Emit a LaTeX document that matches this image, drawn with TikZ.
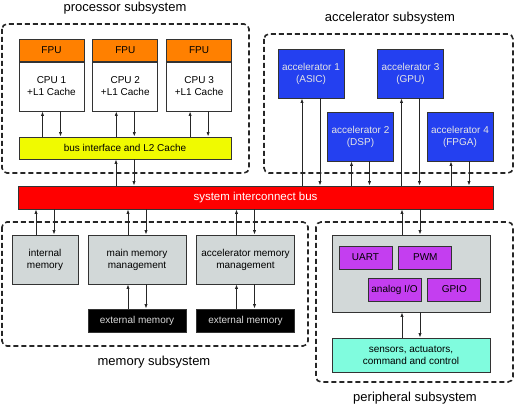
\documentclass[tikz,border=0pt]{standalone}
\usepackage{fontspec}
\setmainfont{Liberation Sans}
\usetikzlibrary{arrows.meta, positioning}

\definecolor{fpuorange}{RGB}{255,128,0}
\definecolor{bifyellow}{RGB}{240,250,0}
\definecolor{accblue}{RGB}{36,64,240}
\definecolor{busred}{RGB}{255,0,0}
\definecolor{memgray}{RGB}{210,216,216}
\definecolor{ioviolet}{RGB}{196,62,240}
\definecolor{sensaqua}{RGB}{128,252,222}

\begin{document}
\begin{tikzpicture}[x=1pt, y=-1pt, >={Latex[length=4.5pt,width=3.2pt]},
  every node/.style={font=\fontsize{10}{12}\selectfont, align=center, inner sep=0pt},
  box/.style={rectangle, draw=black!80, line width=0.8pt},
  subsys/.style={draw=black!85, line width=1.6pt, dash pattern=on 5pt off 3pt, rounded corners=5pt},
  title/.style={font=\fontsize{13}{15}\selectfont},
  link/.style={->, draw=black!85, line width=0.8pt}]
  \useasboundingbox (0,0) rectangle (515,409);

  % Subsystem frames
  \draw[subsys] (2,24) rectangle (249,173);
  \draw[subsys] (264,34) rectangle (513,173);
  \draw[subsys] (2,222) rectangle (308,346);
  \draw[subsys] (316,222) rectangle (513,382);
  \node[title] (proctitle) at (125,8) {processor subsystem};
  \node[title] (acctitle) at (390,18) {accelerator subsystem};
  \node[title] (memtitle) at (154,362) {memory subsystem};
  \node[title] (peritle) at (415,398) {peripheral subsystem};

  % Processors
  \node (cpu1) [box, fill=white, minimum width=65pt, minimum height=49pt] at (51.5,86.5) {CPU 1\\+L1 Cache};
  \node (cpu2) [box, fill=white, minimum width=65pt, minimum height=49pt, right=8pt of cpu1] {CPU 2\\+L1 Cache};
  \node (cpu3) [box, fill=white, minimum width=65pt, minimum height=49pt, right=8pt of cpu2] {CPU 3\\+L1 Cache};
  \node (fpu1) [box, fill=fpuorange, minimum width=65pt, minimum height=22pt, above=0pt of cpu1] {FPU};
  \node (fpu2) [box, fill=fpuorange, minimum width=65pt, minimum height=22pt, above=0pt of cpu2] {FPU};
  \node (fpu3) [box, fill=fpuorange, minimum width=65pt, minimum height=22pt, above=0pt of cpu3] {FPU};
  \node (bif) [box, fill=bifyellow, minimum width=212pt, minimum height=22pt] at (125,148) {bus interface and L2 Cache};

  % Bus
  \node (bus) [box, fill=busred, text=white, font=\fontsize{11.5}{13}\selectfont, minimum width=475pt, minimum height=23pt] at (255.5,197.5) {system interconnect bus};

  % Accelerators
  \node (acc1) [box, fill=accblue, text=white!90!black, minimum width=66pt, minimum height=49pt] at (311,73.5) {accelerator 1\\(ASIC)};
  \node (acc3) [box, fill=accblue, text=white!90!black, minimum width=66pt, minimum height=49pt] at (410.5,73.5) {accelerator 3\\(GPU)};
  \node (acc2) [box, fill=accblue, text=white!90!black, minimum width=66pt, minimum height=49pt] at (360.5,136.5) {accelerator 2\\(DSP)};
  \node (acc4) [box, fill=accblue, text=white!90!black, minimum width=66pt, minimum height=49pt] at (460,136.5) {accelerator 4\\(FPGA)};

  % Memory
  \node (intmem) [box, fill=memgray, minimum width=66pt, minimum height=49pt] at (45,259.5) {internal\\memory};
  \node (mainmem) [box, fill=memgray, minimum width=98pt, minimum height=49pt] at (137,259.5) {main memory\\management};
  \node (accmem) [box, fill=memgray, minimum width=98pt, minimum height=49pt] at (245.5,259.5) {accelerator memory\\management};
  \node (ext1) [box, fill=black, text=white!85!black, minimum width=98pt, minimum height=23pt] at (137,320.5) {external memory};
  \node (ext2) [box, fill=black, text=white!85!black, minimum width=98pt, minimum height=23pt] at (245.5,320.5) {external memory};

  % Peripherals
  \node (periph) [box, fill=memgray, minimum width=158pt, minimum height=77pt] at (411,273.5) {};
  \node (uart) [box, fill=ioviolet, minimum width=53pt, minimum height=23pt] at (365.5,257.5) {UART};
  \node (pwm) [box, fill=ioviolet, minimum width=53pt, minimum height=23pt, right=6pt of uart] {PWM};
  \node (analog) [box, fill=ioviolet, minimum width=53pt, minimum height=23pt] at (394.5,289.5) {analog I/O};
  \node (gpio) [box, fill=ioviolet, minimum width=53pt, minimum height=23pt, right=6pt of analog] {GPIO};
  \node (sensors) [box, fill=sensaqua, minimum width=158pt, minimum height=34pt] at (411,355) {sensors, actuators,\\command and control};

  % Links
  \foreach \up/\low in {cpu1/bif, cpu2/bif, cpu3/bif, bif/bus, acc1/bus, acc2/bus, acc3/bus, acc4/bus,
                        mainmem/ext1, accmem/ext2, periph/sensors} {
    \draw[link] ([xshift=-9pt]\up.south |- \low.north) -- ([xshift=-9pt]\up.south);
    \draw[link] ([xshift=9pt]\up.south) -- ([xshift=9pt]\up.south |- \low.north);
  }
  \foreach \low in {intmem, mainmem, accmem, periph} {
    \draw[link] ([xshift=-9pt]\low.north) -- ([xshift=-9pt]\low.north |- bus.south);
    \draw[link] ([xshift=9pt]\low.north |- bus.south) -- ([xshift=9pt]\low.north);
  }
\end{tikzpicture}
\end{document}
